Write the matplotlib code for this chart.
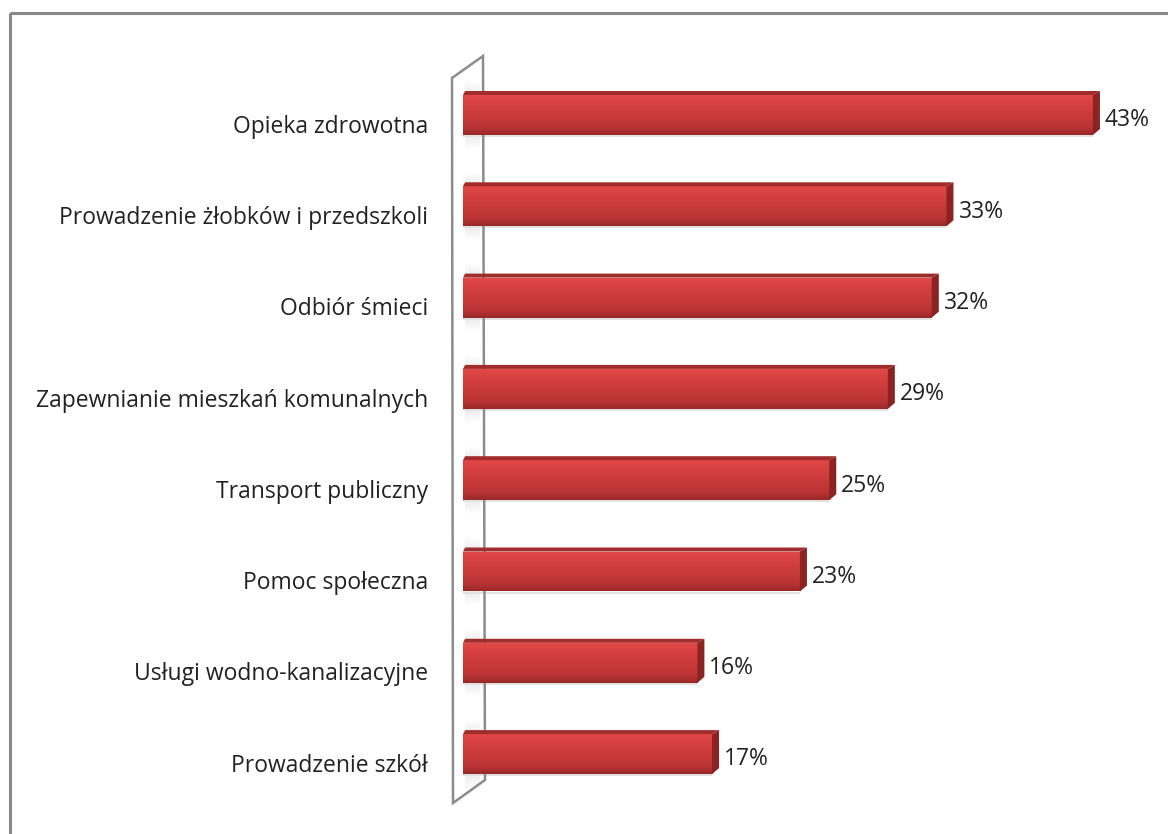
import numpy as np
import matplotlib
matplotlib.use("Agg")
import matplotlib.pyplot as plt
from matplotlib.patches import Polygon, Rectangle
from matplotlib.colors import LinearSegmentedColormap

plt.rcParams['font.family'] = ['Open Sans', 'DejaVu Sans']

categories = [
    "Opieka zdrowotna",
    "Prowadzenie żłobków i przedszkoli",
    "Odbiór śmieci",
    "Zapewnianie mieszkań komunalnych",
    "Transport publiczny",
    "Pomoc społeczna",
    "Usługi wodno-kanalizacyjne",
    "Prowadzenie szkół",
]
values = [43, 33, 32, 29, 25, 23, 16, 17]
value_labels = ["43%", "33%", "32%", "29%", "25%", "23%", "16%", "17%"]

W, H = 1168, 834
fig = plt.figure(figsize=(W / 100, H / 100), dpi=100)
ax = fig.add_axes([0, 0, 1, 1])

# pixel mapping: x=0 at px 463, 14.65 px per percent; bar 0 at py 113, 91.3 px per bar
px_per_pct = 14.65
x0 = 463
py_per_bar = 91.3
y0 = 113
ax.set_xlim(-x0 / px_per_pct, (W - x0) / px_per_pct)
ax.set_ylim((H - y0) / py_per_bar, -y0 / py_per_bar)
ax.axis("off")

def px2d(px, py):
    return (px - x0) / px_per_pct, (py - y0) / py_per_bar

# outer border (only top and left visible)
bx, by = px2d(10, 12.5)
ex, ey = px2d(W + 5, H + 5)
ax.add_patch(Rectangle((bx, by), ex - bx, ey - by, fill=False, ec="#888888", lw=2.2,
                       clip_on=False))

# side wall: white fill below, edge drawn above the shading
wall = [px2d(452, 78), px2d(483, 56), px2d(485, 780), px2d(453, 803)]
ax.add_patch(Polygon(wall, closed=True, fc="white", ec="none", zorder=1))
ax.add_patch(Polygon(wall, closed=True, fill=False, ec="#8c8c8c", lw=1.8, zorder=2.5))

bar_h = 40 / py_per_bar
top_h = 4 / py_per_bar
depth = 7 / px_per_pct

grad = np.linspace(0, 1, 256).reshape(-1, 1)
cmap = LinearSegmentedColormap.from_list(
    "bar", [(0, "#e44848"), (0.2, "#d84141"), (0.8, "#bb3434"), (1, "#982828")])
wall_shade = LinearSegmentedColormap.from_list("ws", ["#ffffff", "#c4c4c4", "#ffffff"])

y_pos = np.arange(len(categories))
bars = ax.barh(y_pos + top_h / 2, values, height=bar_h, color="none", zorder=3)
for b, v, lab, y in zip(bars, values, value_labels, y_pos):
    bx0, by0 = b.get_x(), b.get_y()
    bw, bh = b.get_width(), b.get_height()
    # soft shading on the wall around the bar root
    ax.imshow(grad, cmap=wall_shade, aspect="auto", alpha=0.8,
              extent=(px2d(465, 0)[0], px2d(480, 0)[0], by0 + bh + 0.15, by0 - 0.15), zorder=1.5)
    # shadow
    ax.add_patch(Rectangle((bx0, by0 + bh), bw, 2 / py_per_bar,
                           fc="#e2e2e2", ec="none", zorder=2))
    im = ax.imshow(grad, cmap=cmap, aspect="auto",
                   extent=(bx0, bx0 + bw, by0 + bh, by0), zorder=3)
    im.set_clip_path(b)
    # top face
    top = [(bx0, by0), (bx0 + depth * 0.3, by0 - top_h), (bx0 + bw + depth, by0 - top_h),
           (bx0 + bw, by0)]
    ax.add_patch(Polygon(top, closed=True, fc="#a12c2c", ec="none", zorder=4))
    # end cap
    cap = [(bx0 + bw, by0), (bx0 + bw + depth, by0 - top_h), (bx0 + bw + depth, by0 + bh - top_h * 1.5),
           (bx0 + bw, by0 + bh)]
    ax.add_patch(Polygon(cap, closed=True, fc="#8c2323", ec="none", zorder=4))
    ax.text(bx0 + bw + depth + 5 / px_per_pct, y + 0.08, lab, va="center", ha="left",
            fontsize=16.5, color="#222222", zorder=5)

for y, c in zip(y_pos, categories):
    tx, _ = px2d(428, 0)
    ax.text(tx, y + 0.15, c, va="center", ha="right", fontsize=16.5, color="#222222")

fig.savefig("out.png", dpi=100, facecolor="white")
